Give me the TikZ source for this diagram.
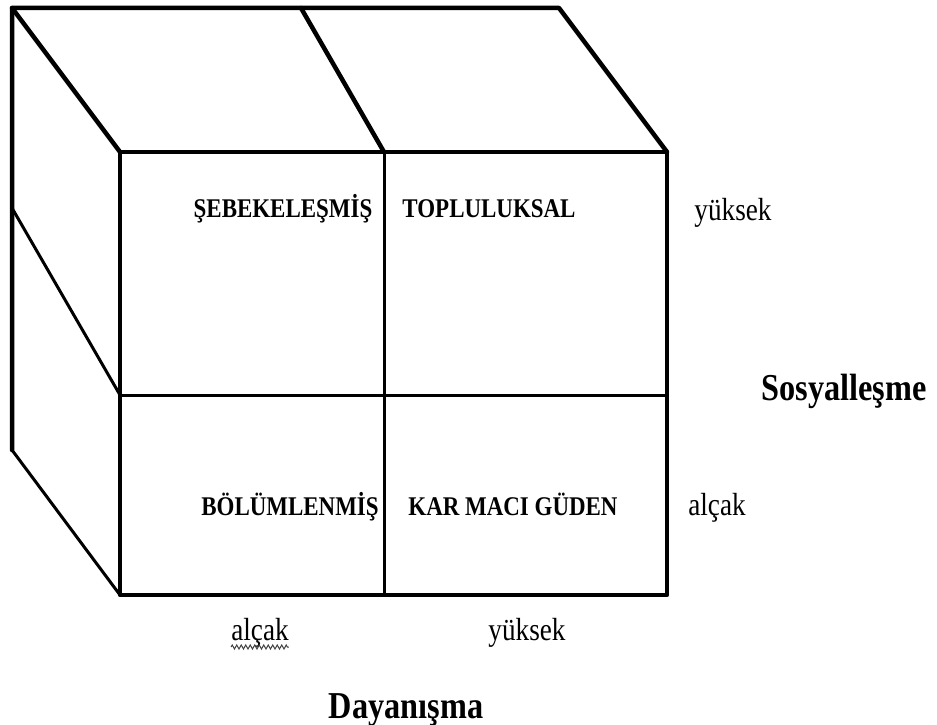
\documentclass[tikz,border=0pt]{standalone}
\usepackage{fontspec}
\setmainfont{Liberation Serif}
\usepackage{graphicx}
\usepackage{tikz}
\usetikzlibrary{decorations.pathmorphing,positioning}
\newcommand{\dar}[1]{\scalebox{0.85}[1]{#1}}
\tikzset{
  kenar/.style={line width=4.5pt,line cap=round,line join=round},
  ince/.style={line width=3pt},
  hucre/.style={font=\fontsize{27}{27}\selectfont\bfseries,anchor=base,inner sep=0pt},
  eksen/.style={font=\fontsize{38}{38}\selectfont\bfseries,anchor=base,inner sep=0pt},
  etiket/.style={font=\fontsize{32}{32}\selectfont,anchor=base,inner sep=0pt}
}
\begin{document}
\begin{tikzpicture}[x=1pt,y=-1pt]
\useasboundingbox (0,0) rectangle (937,725);
% kup
\draw[kenar] (120,152) rectangle (667,595);
\draw[kenar] (12,450)--(12,8)--(559,8)--(667,152);
\draw[kenar] (12,8)--(120,152) (301,8)--(384,152);
\draw[ince] (12,208)--(120,395) (12,450)--(120,595);
\draw[ince] (120,395)--(667,395) (384,152)--(384,595);
% hucreler
\node[hucre] (sebeke) at (283,217) {\dar{ŞEBEKELEŞMİŞ}};
\node[hucre] (toplu) at (489,217) {\dar{TOPLULUKSAL}};
\node[hucre] (bolum) at (290,515) {\dar{BÖLÜMLENMİŞ}};
\node[hucre] (kar) at (513,515) {\dar{KAR MACI GÜDEN}};
% eksenler
\node[etiket] (syuk) at (733,220) {\dar{yüksek}};
\node[etiket] (salc) at (717,515) {\dar{alçak}};
\node[eksen] (sosyal) at (844,400) {\dar{Sosyalleşme}};
\node[etiket] (dalc) at (260,640) {\dar{alçak}};
\node[etiket] (dyuk) at (527,640) {\dar{yüksek}};
\node[eksen] (dayan) at (406,718) {\dar{Dayanışma}};
\draw[gray!50!black,line width=1pt,decorate,decoration={zigzag,segment length=4.5pt,amplitude=2pt}]
  ([yshift=-7pt]dalc.base west)--([yshift=-7pt]dalc.base east);
\end{tikzpicture}
\end{document}
